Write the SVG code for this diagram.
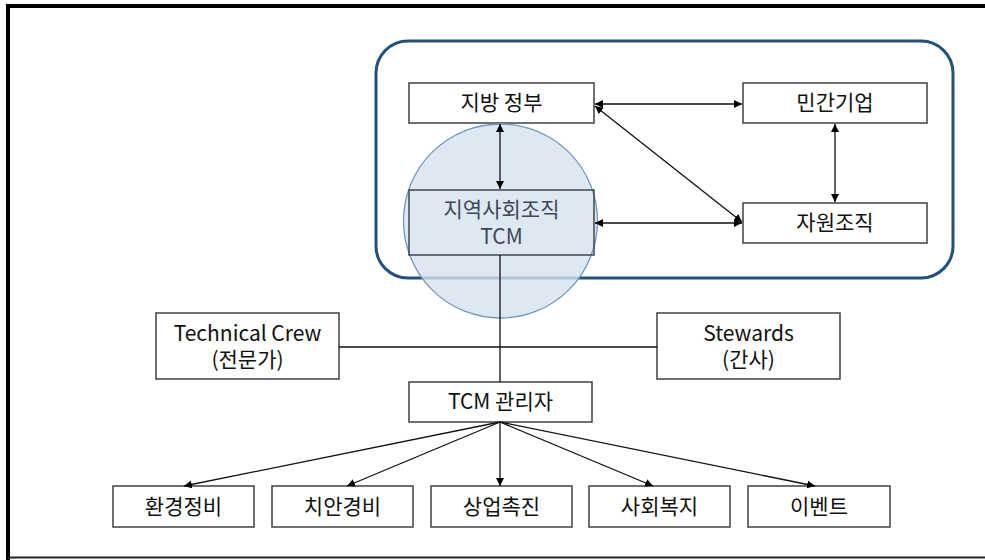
<svg xmlns="http://www.w3.org/2000/svg" width="985" height="560" viewBox="0 0 985 560">
<defs>
<marker id="ah" viewBox="0 0 10 10" refX="10" refY="5" markerWidth="8" markerHeight="8" markerUnits="userSpaceOnUse" orient="auto-start-reverse">
<path d="M0,0 L10,5 L0,10 z" fill="#000"/>
</marker>
<style>
.box{fill:#fff;stroke:#404040;stroke-width:1.5}
.t{font-family:"Malgun Gothic","Noto Sans CJK KR","Noto Sans",sans-serif;font-size:21px;fill:#111;text-anchor:middle}
.c{stroke:#111;stroke-width:1.3;fill:none}
.bi{marker-start:url(#ah);marker-end:url(#ah)}
.one{marker-end:url(#ah)}
</style>
</defs>
<rect width="985" height="560" fill="#fff"/>
<path d="M8,560 V6 H990" fill="none" stroke="#000" stroke-width="4"/>
<line x1="8" y1="557.5" x2="985" y2="557.5" stroke="#222" stroke-width="2"/>

<g id="container">
<rect x="376" y="41" width="577" height="237" rx="32" fill="none" stroke="#24507c" stroke-width="3"/>
</g>

<g id="local-gov">
<rect class="box" x="409" y="83" width="185" height="40"/>
<text class="t" x="501.5" y="110">지방 정부</text>
</g>
<g id="private-corp">
<rect class="box" x="743" y="83" width="184" height="40"/>
<text class="t" x="835" y="110">민간기업</text>
</g>
<g id="volunteer-org">
<rect class="box" x="743" y="203" width="184" height="40"/>
<text class="t" x="835" y="230">자원조직</text>
</g>
<g id="community-org">
<circle cx="500.5" cy="221" r="97" fill="#d6e2f0" fill-opacity="0.8" stroke="#7397bf" stroke-width="1.3"/>
<rect x="409" y="190" width="185" height="65" fill="none" stroke="#3c4550" stroke-width="1.5"/>
<text class="t" x="501.5" y="217" style="fill:#3e4756">지역사회조직</text>
<text class="t" x="501.5" y="244" style="fill:#3e4756">TCM</text>
</g>
<g id="technical-crew">
<rect class="box" x="156" y="313" width="183" height="66"/>
<text class="t" x="247.5" y="341">Technical Crew</text>
<text class="t" x="247.5" y="367">(전문가)</text>
</g>
<g id="stewards">
<rect class="box" x="657" y="313" width="183" height="66"/>
<text class="t" x="748.5" y="341">Stewards</text>
<text class="t" x="748.5" y="367">(간사)</text>
</g>
<g id="tcm-manager">
<rect class="box" x="409" y="382" width="183" height="40"/>
<text class="t" x="500.5" y="409">TCM 관리자</text>
</g>
<g id="env">
<rect class="box" x="113" y="486" width="141" height="41"/>
<text class="t" x="183.5" y="514">환경정비</text>
</g>
<g id="security">
<rect class="box" x="272" y="486" width="141" height="41"/>
<text class="t" x="342.5" y="514">치안경비</text>
</g>
<g id="commerce">
<rect class="box" x="431" y="486" width="141" height="41"/>
<text class="t" x="501.5" y="514">상업촉진</text>
</g>
<g id="welfare">
<rect class="box" x="589" y="486" width="141" height="41"/>
<text class="t" x="659.5" y="514">사회복지</text>
</g>
<g id="event">
<rect class="box" x="748" y="486" width="142" height="41"/>
<text class="t" x="819" y="514">이벤트</text>
</g>

<g id="connectors">
<line class="c bi" x1="500" y1="124" x2="500" y2="189"/>
<line class="c bi" x1="595" y1="104" x2="742" y2="104"/>
<line class="c bi" x1="595" y1="106" x2="742" y2="222"/>
<line class="c bi" x1="835" y1="124" x2="835" y2="202"/>
<line class="c bi" x1="595" y1="223" x2="742" y2="223"/>
<line class="c" x1="500" y1="255" x2="500" y2="382"/>
<line class="c" x1="339" y1="347" x2="657" y2="347"/>
<line class="c one" x1="500" y1="422" x2="184" y2="486"/>
<line class="c one" x1="500" y1="422" x2="347" y2="486"/>
<line class="c one" x1="500" y1="422" x2="500" y2="486"/>
<line class="c one" x1="500" y1="422" x2="653" y2="486"/>
<line class="c one" x1="500" y1="422" x2="815" y2="486"/>
</g>
</svg>
